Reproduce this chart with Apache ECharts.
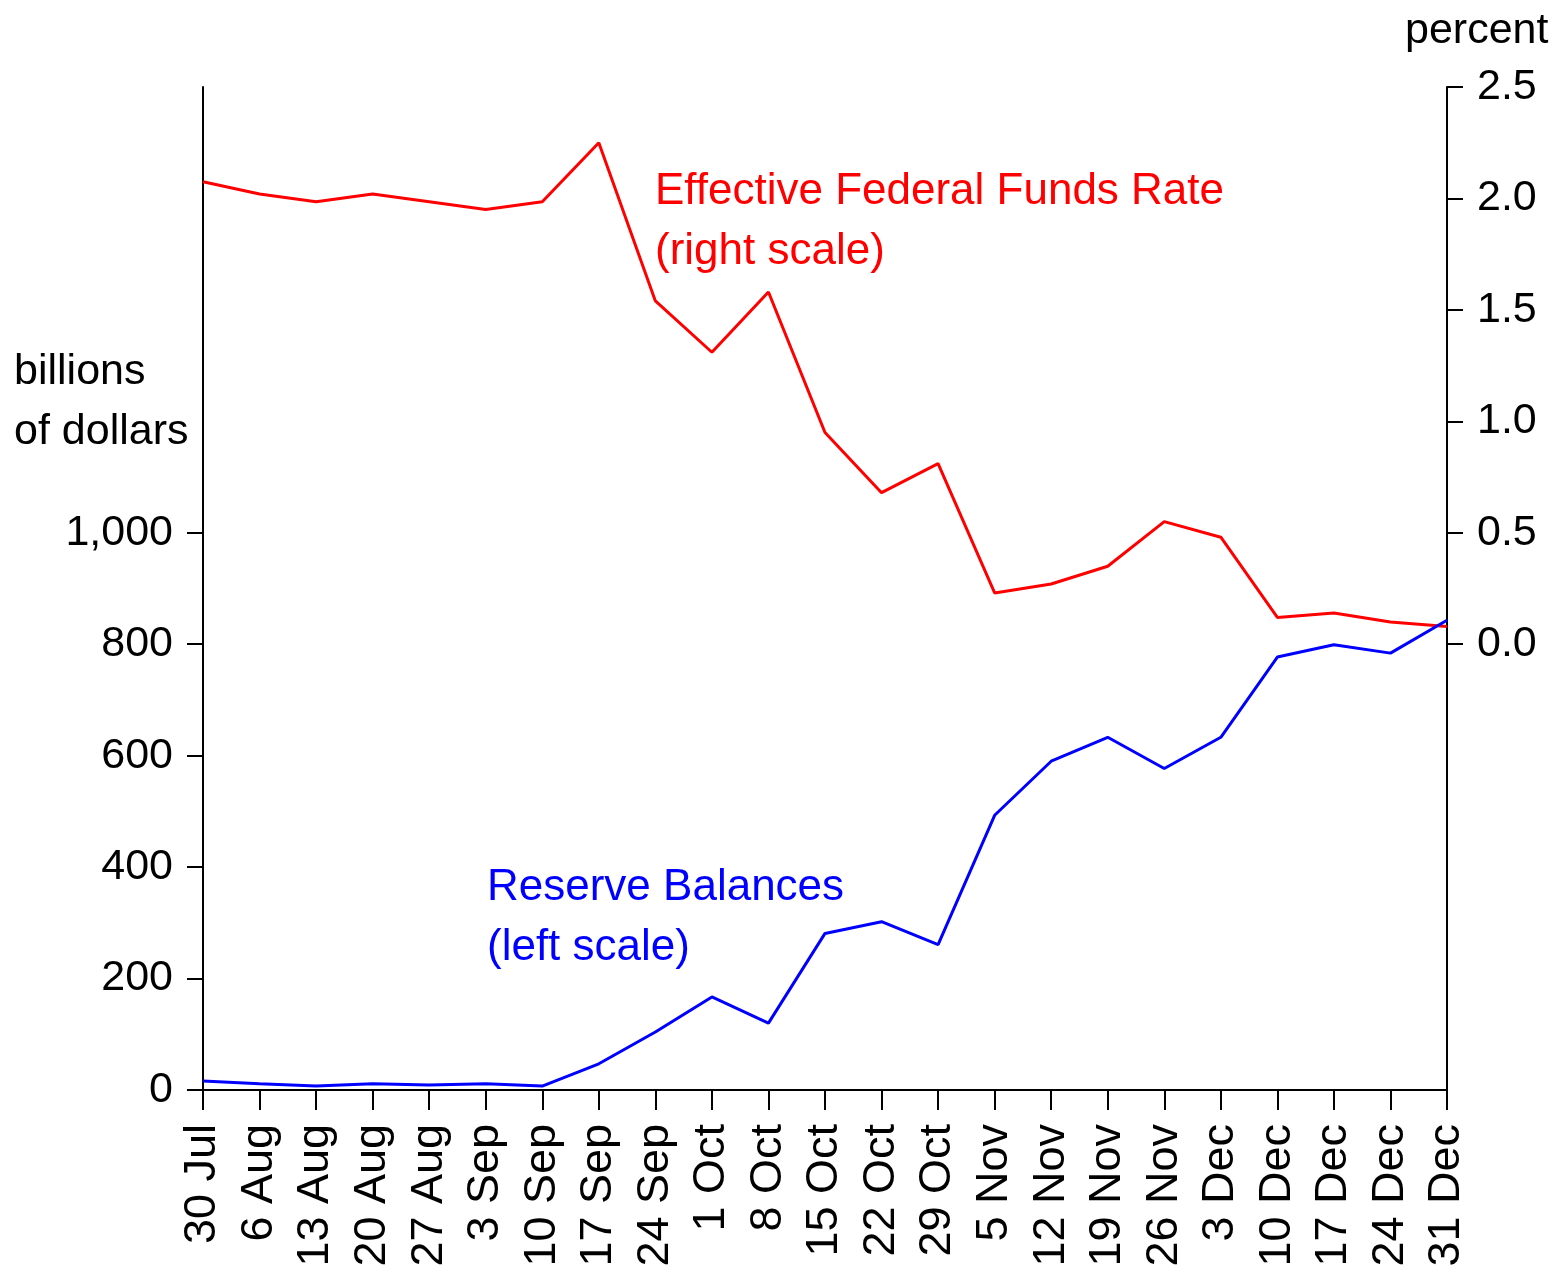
<!DOCTYPE html>
<html>
<head>
<meta charset="utf-8">
<script src="https://cdn.jsdelivr.net/npm/echarts@6/dist/echarts.min.js"></script>
<style>
html,body{margin:0;padding:0;background:#fff;}
#chart{width:1562px;height:1275px;}
</style>
</head>
<body>
<div id="chart"></div>
<script>
const categories = ['30 Jul','6 Aug','13 Aug','20 Aug','27 Aug','3 Sep','10 Sep','17 Sep','24 Sep','1 Oct','8 Oct','15 Oct','22 Oct','29 Oct','5 Nov','12 Nov','19 Nov','26 Nov','3 Dec','10 Dec','17 Dec','24 Dec','31 Dec'];
const fedFundsRate = [2.075,2.02,1.985,2.02,1.985,1.95,1.985,2.25,1.54,1.31,1.58,0.95,0.68,0.81,0.23,0.27,0.35,0.55,0.48,0.12,0.14,0.10,0.08];
const reserveBalances = [16,11,7,11,9,11,7,47,104,167,120,281,302,261,493,590,633,577,633,777,799,784,843];
const leftTicks = [0,200,400,600,800,1000];
const rightTicks = [0,0.5,1.0,1.5,2.0,2.5];

const FONT = 'Liberation Sans, Arial, sans-serif';
const chart = echarts.init(document.getElementById('chart'), null, {renderer:'canvas'});
const axisLine = {show:true, lineStyle:{color:'#000', width:2}};
chart.setOption({
  animation:false,
  backgroundColor:'#fff',
  grid:{left:203, right:115, top:87, bottom:185, containLabel:false},
  xAxis:{
    type:'category', data:categories, boundaryGap:false,
    axisLine:axisLine,
    axisTick:{show:true, length:20, interval:0, lineStyle:{color:'#000', width:2}},
    axisLabel:{interval:0, rotate:90, margin:34, color:'#000', fontFamily:FONT, fontSize:45},
    splitLine:{show:false}
  },
  yAxis:[{
    type:'value', position:'left', min:0, max:1800, interval:200,
    axisLine:axisLine,
    axisTick:{show:true, length:16, customValues:leftTicks, lineStyle:{color:'#000', width:2}},
    axisLabel:{customValues:leftTicks, margin:30, color:'#000', fontFamily:FONT, fontSize:43,
      formatter:v=>v.toLocaleString('en-US')},
    splitLine:{show:false}
  },{
    type:'value', position:'right', min:-2, max:2.5, interval:0.5,
    axisLine:axisLine,
    axisTick:{show:true, length:16, customValues:rightTicks, lineStyle:{color:'#000', width:2}},
    axisLabel:{customValues:rightTicks, margin:30, color:'#000', fontFamily:FONT, fontSize:43,
      formatter:v=>v.toFixed(1)},
    splitLine:{show:false}
  }],
  series:[{
    name:'Effective Federal Funds Rate', type:'line', yAxisIndex:1, data:fedFundsRate,
    showSymbol:false, lineStyle:{color:'#ff0000', width:3}, itemStyle:{color:'#ff0000'}, z:3
  },{
    name:'Reserve Balances', type:'line', yAxisIndex:0, data:reserveBalances,
    showSymbol:false, lineStyle:{color:'#0000ff', width:3}, itemStyle:{color:'#0000ff'}, z:4
  }],
  graphic:[
    {type:'text', left:14, top:351, style:{text:'billions', fill:'#000', font:'43px '+FONT}},
    {type:'text', left:14, top:411, style:{text:'of dollars', fill:'#000', font:'43px '+FONT}},
    {type:'text', left:1405, top:10, style:{text:'percent', fill:'#000', font:'43px '+FONT}},
    {type:'text', left:655, top:170, style:{text:'Effective Federal Funds Rate', fill:'#ff0000', font:'44px '+FONT}},
    {type:'text', left:655, top:230, style:{text:'(right scale)', fill:'#ff0000', font:'44px '+FONT}},
    {type:'text', left:487, top:866, style:{text:'Reserve Balances', fill:'#0000ff', font:'44px '+FONT}},
    {type:'text', left:487, top:926, style:{text:'(left scale)', fill:'#0000ff', font:'44px '+FONT}}
  ]
});
</script>
</body>
</html>
